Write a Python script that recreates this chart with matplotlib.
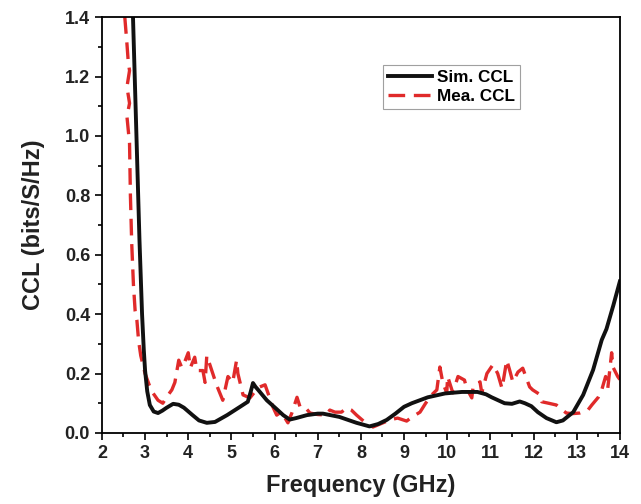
import numpy as np
import matplotlib.pyplot as plt
from matplotlib.ticker import MultipleLocator

plt.rcParams['font.family'] = ['Liberation Sans', 'DejaVu Sans']
plt.rcParams['font.weight'] = 'bold'

# simulated CCL (black line)
sim_f = [2.72, 2.80, 2.87, 2.93, 2.97, 3.0, 3.05, 3.11, 3.2, 3.3, 3.4, 3.5, 3.65,
         3.78, 3.9, 4.1, 4.25, 4.43, 4.62, 4.9, 5.2, 5.38, 5.45, 5.5, 5.56, 5.62,
         5.82, 6.05, 6.2, 6.35, 6.5, 6.75, 7.0, 7.12, 7.5, 7.9, 8.2, 8.4, 8.6, 8.8,
         9.0, 9.18, 9.55, 9.95, 10.34, 10.7, 10.9, 11.03, 11.33, 11.5, 11.68, 11.8,
         11.95, 12.1, 12.3, 12.53, 12.68, 12.92, 13.15, 13.38, 13.58, 13.69, 13.85, 14.0]
sim_ccl = [1.40, 1.0, 0.65, 0.40, 0.28, 0.21, 0.14, 0.094, 0.072, 0.067, 0.075, 0.085, 0.098,
           0.095, 0.085, 0.06, 0.042, 0.034, 0.037, 0.06, 0.088, 0.105, 0.14, 0.168, 0.155, 0.145,
           0.11, 0.08, 0.06, 0.045, 0.05, 0.06, 0.065, 0.065, 0.054, 0.034, 0.022, 0.03, 0.044, 0.065,
           0.088, 0.1, 0.12, 0.133, 0.138, 0.138, 0.13, 0.12, 0.1, 0.098, 0.106, 0.1,
           0.09, 0.07, 0.05, 0.036, 0.042, 0.07, 0.128, 0.212, 0.313, 0.35, 0.43, 0.51]

# measured CCL (red dashed line)
mea_f = [2.53, 2.58, 2.61, 2.64, 2.58, 2.64, 2.58, 2.64, 2.66, 2.69, 2.73, 2.77, 2.81,
         2.85, 2.9, 3.0, 3.1, 3.18, 3.3, 3.41, 3.52, 3.62, 3.69, 3.78, 3.85, 3.92, 4.0,
         4.05, 4.15, 4.2, 4.34, 4.39, 4.43, 4.5, 4.66, 4.8, 4.92, 5.03, 5.12, 5.15, 5.27,
         5.43, 5.55, 5.66, 5.78, 5.96, 6.05, 6.15, 6.22, 6.31, 6.4, 6.52, 6.59, 6.7, 6.82,
         7.0, 7.2, 7.28, 7.4, 7.55, 7.67, 7.78, 7.9, 8.1, 8.28, 8.51, 8.67, 8.85, 9.06,
         9.2, 9.37, 9.5, 9.64, 9.76, 9.83, 9.9, 9.99, 10.01, 10.13, 10.25, 10.4, 10.45,
         10.57, 10.6, 10.76, 10.8, 10.92, 11.06, 11.17, 11.27, 11.38, 11.45, 11.52, 11.64,
         11.75, 11.91, 11.98, 12.14, 12.19, 12.35, 12.53, 12.6, 12.76, 12.9, 13.07, 13.26,
         13.35, 13.5, 13.58, 13.67, 13.72, 13.81, 13.84, 13.95, 14.0]
mea_ccl = [1.40, 1.31, 1.25, 1.22, 1.165, 1.11, 1.065, 0.975, 0.80, 0.64, 0.50, 0.41, 0.38,
           0.31, 0.26, 0.20, 0.16, 0.135, 0.11, 0.10, 0.125, 0.145, 0.17, 0.245, 0.22, 0.24, 0.27,
           0.22, 0.255, 0.21, 0.21, 0.17, 0.26, 0.23, 0.16, 0.11, 0.19, 0.17, 0.245, 0.2, 0.128,
           0.118, 0.14, 0.155, 0.162, 0.088, 0.06, 0.07, 0.055, 0.034, 0.067, 0.12, 0.088, 0.088, 0.067,
           0.062, 0.06, 0.077, 0.07, 0.07, 0.084, 0.077, 0.06, 0.035, 0.02, 0.034, 0.044, 0.05, 0.04,
           0.055, 0.07, 0.1, 0.128, 0.145, 0.222, 0.168, 0.135, 0.19, 0.135, 0.19, 0.178, 0.15,
           0.118, 0.155, 0.172, 0.135, 0.2, 0.23, 0.2, 0.15, 0.245, 0.21, 0.172, 0.205,
           0.218, 0.155, 0.145, 0.13, 0.105, 0.1, 0.094, 0.085, 0.067, 0.065, 0.067, 0.077,
           0.094, 0.12, 0.145, 0.19, 0.15, 0.27, 0.222, 0.19, 0.18]

fig = plt.figure(figsize=(6.41, 5.04), dpi=100)
ax = fig.add_axes([0.159, 0.141, 0.808, 0.825])

ax.plot(mea_f, mea_ccl, color='#e02a2a', lw=2.4, dashes=(5, 2.6), label='Mea. CCL')
ax.plot(sim_f, sim_ccl, color='#111111', lw=2.8, label='Sim. CCL')

ax.set_xlim(2, 14)
ax.set_ylim(0, 1.4)
ax.xaxis.set_major_locator(MultipleLocator(1))
ax.xaxis.set_minor_locator(MultipleLocator(0.5))
ax.yaxis.set_major_locator(MultipleLocator(0.2))
ax.yaxis.set_minor_locator(MultipleLocator(0.1))
ax.yaxis.set_major_formatter(plt.FormatStrFormatter('%.1f'))

ax.tick_params(which='both', direction='out', top=False, right=False,
               labelsize=13, labelcolor='#222222', width=1.2)
ax.tick_params(which='major', length=5)
ax.tick_params(which='minor', length=3)
for s in ax.spines.values():
    s.set_linewidth(1.3)

ax.set_xlabel('Frequency (GHz)', fontsize=17, fontweight='bold', color='#222222', labelpad=9)
ax.set_ylabel('CCL (bits/S/Hz)', fontsize=17, fontweight='bold', color='#222222', labelpad=14)

h, l = ax.get_legend_handles_labels()
leg = ax.legend(h[::-1], l[::-1], loc='upper left', bbox_to_anchor=(0.542, 0.885),
                borderaxespad=0, fontsize=12.3, frameon=True, fancybox=False,
                handlelength=2.6, borderpad=0.3, labelspacing=0.25, handletextpad=0.3)
leg.get_frame().set_edgecolor('#888888')
leg.get_frame().set_linewidth(0.8)
for t in leg.get_texts():
    t.set_fontweight('bold')

fig.savefig('out.png', dpi=100)
